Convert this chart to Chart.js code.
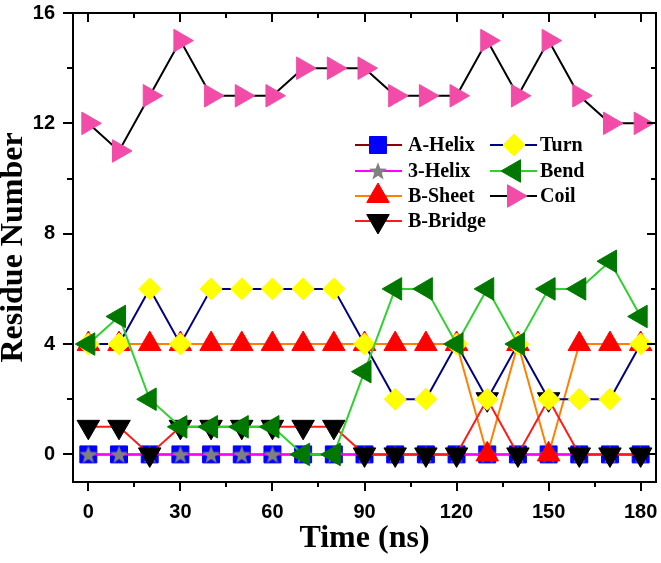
<!DOCTYPE html>
<html>
<head>
<meta charset="utf-8">
<script src="https://cdn.jsdelivr.net/npm/chart.js@4/dist/chart.umd.min.js"></script>
<style>
  html, body { margin: 0; padding: 0; background: #fff; overflow: hidden; }
  #wrap { width: 661px; height: 563px; position: relative; overflow: hidden; }
  #c { display: block; }
</style>
</head>
<body>
<div id="wrap"><canvas id="c" width="661" height="563"></canvas></div>
<script>
// ---- data ----
const times = [0, 10, 20, 30, 40, 50, 60, 70, 80, 90, 100, 110, 120, 130, 140, 150, 160, 170, 180];
const aHelix = [0, 0, 0, 0, 0, 0, 0, 0, 0, 0, 0, 0, 0, 0, 0, 0, 0, 0, 0];
const threeHelix = [0, 0, 0, 0, 0, 0, 0, 0, 0, 0, 0, 0, 0, 0, 0, 0, 0, 0, 0];
const bSheet = [4, 4, 4, 4, 4, 4, 4, 4, 4, 4, 4, 4, 4, 0, 4, 0, 4, 4, 4];
const bBridge = [1, 1, 0, 1, 1, 1, 1, 1, 1, 0, 0, 0, 0, 2, 0, 2, 0, 0, 0];
const turn = [4, 4, 6, 4, 6, 6, 6, 6, 6, 4, 2, 2, 4, 2, 4, 2, 2, 2, 4];
const bend = [4, 5, 2, 1, 1, 1, 1, 0, 0, 3, 6, 6, 4, 6, 4, 6, 6, 7, 5];
const coil = [12, 11, 13, 15, 13, 13, 13, 14, 14, 14, 13, 13, 13, 15, 13, 15, 13, 12, 12];
const seriesNames = ['A-Helix', '3-Helix', 'B-Sheet', 'B-Bridge', 'Turn', 'Bend', 'Coil'];
const xTickValues = [0, 30, 60, 90, 120, 150, 180];
const yTickValues = [0, 4, 8, 12, 16];

// ---- star marker ----
function makeStar() {
  const s = 20, c = document.createElement('canvas');
  c.width = s; c.height = s;
  const g = c.getContext('2d');
  const R = 9.5, r = 4.0, cx = s / 2, cy = s / 2 + 0.8;
  g.beginPath();
  for (let i = 0; i < 10; i++) {
    const rad = (i * Math.PI) / 5;
    const rr = i % 2 === 0 ? R : r;
    const px = cx + Math.sin(rad) * rr, py = cy - Math.cos(rad) * rr;
    if (i === 0) g.moveTo(px, py); else g.lineTo(px, py);
  }
  g.closePath();
  g.fillStyle = '#808080';
  g.fill();
  return c;
}
const starImg = makeStar();

const seriesData = [aHelix, threeHelix, bSheet, bBridge, turn, bend, coil];
const styles = [
  { line: '#8b0000', fill: '#0000ff', pointStyle: 'rect', radius: 12, rotation: 0 },
  { line: '#ff00ff', fill: '#808080', pointStyle: starImg, radius: 10, rotation: 0 },
  { line: '#ff8000', fill: '#ff0000', pointStyle: 'triangle', radius: 13, rotation: 0 },
  { line: '#ff1a1a', fill: '#000000', pointStyle: 'triangle', radius: 13, rotation: 180 },
  { line: '#000080', fill: '#ffff00', pointStyle: 'rectRot', radius: 11, rotation: 0 },
  { line: '#2fd12f', fill: '#007800', pointStyle: 'triangle', radius: 13, rotation: -90 },
  { line: '#000000', fill: '#f24ca8', pointStyle: 'triangle', radius: 13, rotation: 90 }
];

const datasets = seriesNames.map((name, i) => ({
  label: name,
  data: times.map((t, j) => ({ x: t, y: seriesData[i][j] })),
  borderColor: styles[i].line,
  borderWidth: 2,
  pointStyle: styles[i].pointStyle,
  pointRadius: styles[i].radius,
  pointRotation: styles[i].rotation,
  pointBackgroundColor: styles[i].fill,
  pointBorderColor: styles[i].fill,
  pointBorderWidth: 1,
  tension: 0,
  fill: false,
  clip: false,
  order: seriesNames.length - i
}));

// ---- frame, ticks and legend plugin ----
const framePlugin = {
  id: 'frame',
  afterDatasetsDraw(chart) {
    const ctx = chart.ctx, a = chart.chartArea;
    const xs = chart.scales.x, ys = chart.scales.y;
    ctx.save();
    ctx.strokeStyle = '#000';
    ctx.lineWidth = 2;
    ctx.strokeRect(a.left, a.top, a.right - a.left, a.bottom - a.top);
    ctx.lineWidth = 2;
    ctx.beginPath();
    const xMin = [];
    for (let i = 0; i < xTickValues.length - 1; i++) xMin.push((xTickValues[i] + xTickValues[i + 1]) / 2);
    const yMin = [];
    for (let i = 0; i < yTickValues.length - 1; i++) yMin.push((yTickValues[i] + yTickValues[i + 1]) / 2);
    const xt = (v, len) => {
      const p = Math.round(xs.getPixelForValue(v));
      ctx.moveTo(p, a.bottom); ctx.lineTo(p, a.bottom + len);
      ctx.moveTo(p, a.top); ctx.lineTo(p, a.top + len);
    };
    const yt = (v, lenOut, lenIn) => {
      const p = Math.round(ys.getPixelForValue(v));
      ctx.moveTo(a.left, p); ctx.lineTo(a.left - lenOut, p);
      ctx.moveTo(a.right, p); ctx.lineTo(a.right - lenIn, p);
    };
    xTickValues.forEach(v => xt(v, 9));
    xMin.forEach(v => xt(v, 5));
    yTickValues.forEach(v => yt(v, 10, 9));
    yMin.forEach(v => yt(v, 6, 5));
    ctx.stroke();

    // legend
    const rows = [145, 171, 196, 221];
    const cols = [
      { lx0: 355, lx1: 402, mx: 378, tx: 408 },
      { lx0: 490, lx1: 537, mx: 514, tx: 540 }
    ];
    const layout = [[0, 0], [1, 0], [2, 0], [3, 0], [0, 1], [1, 1], [2, 1]];
    ctx.font = 'bold 20px "Liberation Serif", "Times New Roman", serif';
    ctx.textBaseline = 'middle';
    ctx.textAlign = 'left';
    seriesNames.forEach((name, i) => {
      const [r, c] = layout[i];
      const y = rows[r], col = cols[c], st = styles[i];
      ctx.beginPath();
      ctx.strokeStyle = st.line;
      ctx.lineWidth = 2;
      ctx.moveTo(col.lx0, y); ctx.lineTo(col.lx1, y);
      ctx.stroke();
      ctx.fillStyle = st.fill;
      ctx.strokeStyle = st.fill;
      ctx.lineWidth = 1;
      Chart.helpers.drawPoint(ctx, { pointStyle: st.pointStyle, rotation: st.rotation, radius: st.radius, borderWidth: 1 }, col.mx, y);
      ctx.fillStyle = '#000';
      ctx.fillText(name, col.tx, y + 1);
    });
    ctx.restore();
  }
};

new Chart(document.getElementById('c'), {
  type: 'line',
  data: { datasets },
  options: {
    responsive: false,
    animation: false,
    events: [],
    layout: { autoPadding: false, padding: { top: 13, right: 5, left: 0, bottom: 0 } },
    plugins: { legend: { display: false }, tooltip: { enabled: false } },
    scales: {
      x: {
        type: 'linear',
        min: -5, max: 185,
        afterBuildTicks: s => { s.ticks = xTickValues.map(v => ({ value: v })); },
        afterFit: s => { s.height = 81; s.paddingRight = 0; s.paddingLeft = 0; },
        grid: { display: true, drawOnChartArea: false, drawTicks: true, tickLength: 9, color: 'rgba(0,0,0,0)' },
        border: { display: false },
        ticks: {
          padding: 9,
          color: '#000',
          maxRotation: 0,
          autoSkip: false,
          font: { family: '"Liberation Sans", Arial, sans-serif', size: 20, weight: 'bold' }
        },
        title: {
          display: true,
          text: 'Time (ns)',
          color: '#000',
          padding: { top: 0, bottom: 8 },
          font: { family: '"Liberation Serif", "Times New Roman", serif', size: 32, weight: 'bold', lineHeight: 1 }
        }
      },
      y: {
        type: 'linear',
        min: -1, max: 16,
        afterBuildTicks: s => { s.ticks = yTickValues.map(v => ({ value: v })); },
        afterFit: s => { s.width = 73; s.paddingTop = 0; s.paddingBottom = 0; },
        grid: { display: true, drawOnChartArea: false, drawTicks: true, tickLength: 9, color: 'rgba(0,0,0,0)' },
        border: { display: false },
        ticks: {
          padding: 9,
          color: '#000',
          autoSkip: false,
          font: { family: '"Liberation Sans", Arial, sans-serif', size: 20, weight: 'bold' }
        },
        title: {
          display: true,
          text: 'Residue Number',
          color: '#000',
          padding: { top: -2, bottom: 0 },
          font: { family: '"Liberation Serif", "Times New Roman", serif', size: 32, weight: 'bold', lineHeight: 1 }
        }
      }
    }
  },
  plugins: [framePlugin]
});
</script>
</body>
</html>
